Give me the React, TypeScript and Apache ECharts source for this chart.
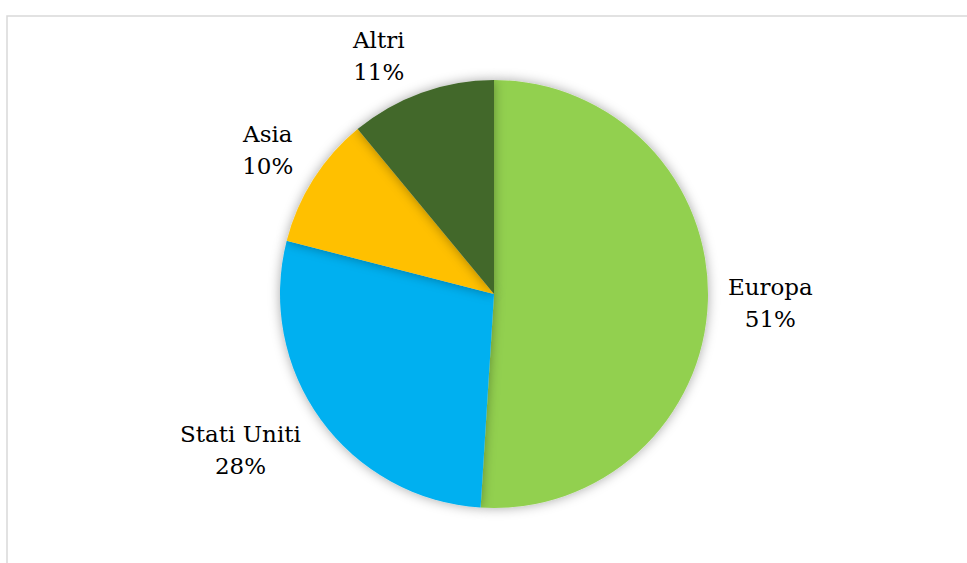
import React, { useEffect, useRef } from "react";
import * as echarts from "echarts";

const categories = ["Europa", "Stati Uniti", "Asia", "Altri"];
const values = [51, 28, 10, 11];
const colors = ["#92D050", "#00B0F0", "#FFC000", "#43682B"];

const CX = 494;
const CY = 294;
const R = 214;
const FONT = 23;
const LINE = 32;

const clamp = (v: number) => Math.max(-1, Math.min(1, v));

export default function App() {
  const ref = useRef<HTMLDivElement>(null);
  useEffect(() => {
    if (!ref.current) return;
    const chart = echarts.init(ref.current, undefined, { renderer: "svg" });
    const total = values.reduce((a, b) => a + b, 0);
    const mids: number[] = [];
    let cum = 0;
    values.forEach((v) => {
      mids.push(((cum + v / 2) / total) * Math.PI * 2);
      cum += v;
    });
    chart.setOption({
      animation: false,
      backgroundColor: "#ffffff",
      graphic: [
        {
          type: "rect",
          shape: { x: 7, y: 16, width: 1000, height: 700 },
          style: { fill: "none", stroke: "#d9d9d9", lineWidth: 1.5 },
          silent: true,
        },
      ],
      series: [
        {
          type: "pie",
          center: [CX, CY],
          radius: [0, R],
          startAngle: 90,
          clockwise: true,
          data: categories.map((c, i) => ({
            name: c,
            value: values[i],
            itemStyle: { color: colors[i] },
          })),
          itemStyle: {
            shadowBlur: 12,
            shadowColor: "rgba(0,0,0,0.35)",
            borderWidth: 0,
          },
          label: {
            show: true,
            position: "outside",
            formatter: (p: any) => `${p.name}\n${Math.round(p.percent)}%`,
            fontFamily: "DejaVu Serif",
            fontSize: FONT,
            lineHeight: LINE,
            color: "#000000",
            align: "center",
          },
          labelLine: { show: false },
          labelLayout: (params: any) => {
            const i = params.dataIndex;
            const a = mids[i];
            const dx = Math.sin(a);
            const dy = -Math.cos(a);
            const w = params.labelRect.width;
            const h = params.labelRect.height - 12;
            const ex = CX + dx * R;
            const ey = CY + dy * R;
            const ax = ex + 20 * clamp(2.5 * dx);
            const ay = ey + 12 * dy * Math.abs(dy);
            return {
              x: ax + (clamp(3 * dx) * w) / 2,
              y: ay + (clamp(3 * dy) * h) / 2,
              align: "center",
              verticalAlign: "middle",
            };
          },
        },
      ],
    });
    return () => chart.dispose();
  }, []);
  return (
    <div
      ref={ref}
      style={{ position: "fixed", left: 0, top: 0, width: 967, height: 563 }}
    />
  );
}
